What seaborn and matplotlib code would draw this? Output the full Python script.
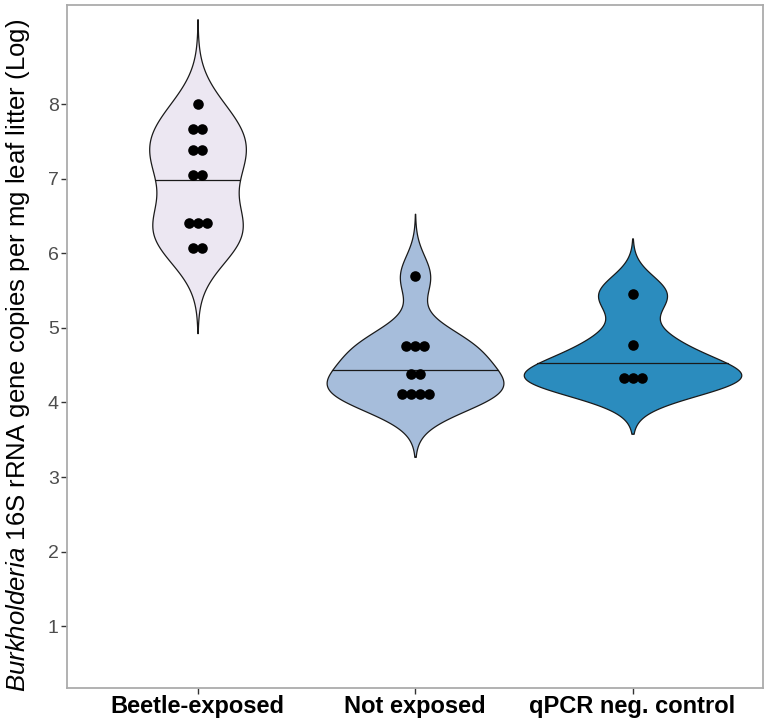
import matplotlib
matplotlib.use("Agg")
import matplotlib.pyplot as plt
import seaborn as sns
import pandas as pd
import numpy as np

# data (dot positions, log10 copies per mg)
groups = ["Beetle-exposed", "Not exposed", "qPCR neg. control"]
beetle = [8.0, 7.67, 7.67, 7.38, 7.38, 7.05, 7.05, 6.41, 6.41, 6.41, 6.07, 6.07]
not_exposed = [5.69, 4.76, 4.76, 4.76, 4.38, 4.38, 4.11, 4.11, 4.11, 4.11]
qpcr_ctrl = [5.45, 4.77, 4.33, 4.33, 4.33]
# kernel bandwidths estimated from how far each violin reaches past its dots
bandwidths = [0.38, 0.28, 0.25]
fill_colors = ["#ECE7F2", "#A6BDDB", "#2B8CBE"]
y_ticks = [1, 2, 3, 4, 5, 6, 7, 8]

df = pd.DataFrame({
    "group": [groups[0]] * len(beetle) + [groups[1]] * len(not_exposed) + [groups[2]] * len(qpcr_ctrl),
    "value": beetle + not_exposed + qpcr_ctrl,
})

sns.set_style("white")
plt.rcParams["font.family"] = ["Liberation Sans", "DejaVu Sans"]
plt.rcParams["mathtext.fontset"] = "custom"
plt.rcParams["mathtext.it"] = "Liberation Sans:italic"
plt.rcParams["mathtext.rm"] = "Liberation Sans"

# each group has a different size, so the size picks its bandwidth
bw_by_n = {len(v): b for v, b in zip([beetle, not_exposed, qpcr_ctrl], bandwidths)}


def pick_bw(kde):
    x = kde.dataset[0]
    return bw_by_n[len(x)] / np.std(x, ddof=1)


fig = plt.figure(figsize=(7.67, 7.27), dpi=100)
ax = fig.add_axes([0.0874, 0.0536, 0.9074, 0.9395])

sns.violinplot(data=df, x="group", y="value", hue="group", order=groups,
               palette=fill_colors, saturation=1, inner=None, cut=3,
               bw_method=pick_bw, gridsize=512, width=1.0, density_norm="area",
               common_norm=True, linecolor="#1a1a1a", linewidth=0.9,
               legend=False, ax=ax)

# median line from the density (like ggplot draw_quantiles = 0.5)
for i, coll in enumerate(ax.collections[:3]):
    v = coll.get_paths()[0].vertices
    right = v[v[:, 0] > i]
    ys, idx = np.unique(right[:, 1], return_index=True)
    hw = right[idx, 0] - i
    cum = np.concatenate([[0], np.cumsum(np.diff(ys) * (hw[1:] + hw[:-1]) / 2)])
    ym = np.interp(cum[-1] / 2, cum, ys)
    w = np.interp(ym, ys, hw)
    ax.plot([i - w, i + w], [ym, ym], color="#1a1a1a", lw=0.9, zorder=3)

# centred dot rows, like geom_dotplot(stackdir = "center")
ax.set_xlim(-0.6, 2.6)
ax.set_ylim(0.17, 9.33)
px_per_unit = fig.get_figwidth() * fig.dpi * 0.9074 / 3.2
step = 9.0 / px_per_unit
xs = []
for g, vals in zip(groups, [beetle, not_exposed, qpcr_ctrl]):
    vals = np.array(vals)
    for u in np.unique(vals):
        k = int((vals == u).sum())
        xs += [(groups.index(g), u, (j - (k - 1) / 2) * step) for j in range(k)]
dots = pd.DataFrame(xs, columns=["pos", "value", "off"])
sns.scatterplot(x=dots["pos"] + dots["off"], y=dots["value"], color="black",
                s=58, linewidth=0, zorder=4, ax=ax)

ax.set_yticks(y_ticks)
ax.set_xlabel("")
ax.set_ylabel(r"$\it{Burkholderia}$ 16S rRNA gene copies per mg leaf litter (Log)",
              fontsize=18.5, color="black")
ax.yaxis.set_label_coords(-0.051, 0.487)
for s in ax.spines.values():
    s.set_color("#ABABAB")
    s.set_linewidth(1.3)
ax.tick_params(axis="y", labelsize=14, labelcolor="#4D4D4D", color="#333333",
               length=4, width=1, left=True, pad=2)
ax.tick_params(axis="x", labelsize=17, labelcolor="black", color="#333333",
               length=4, width=1, bottom=True, pad=1)
for lab in ax.get_xticklabels():
    lab.set_fontweight("bold")

fig.savefig("out.png", dpi=100)
